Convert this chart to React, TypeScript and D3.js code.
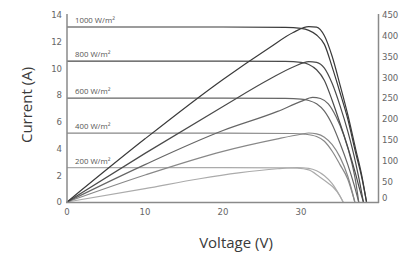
import { useEffect, useRef } from "react";
import * as d3 from "d3";

// irradiance levels, darkest first
const irradiance = [1000, 800, 600, 400, 200];
const seriesColors = ["#3a3a3a", "#4a4a4a", "#666666", "#888888", "#ababab"];

// I-V curves: [voltage, current]
const iv1000: [number, number][] = [[0, 13.1], [20, 13.1], [28, 13.08], [30, 13.0], [31, 12.85], [32, 12.5], [33, 11.8], [34, 10.1], [35, 8.2], [36, 6.2], [37, 3.7], [37.8, 1.8], [38.4, 0]];
const iv800: [number, number][] = [[0, 10.55], [20, 10.55], [28, 10.53], [30, 10.45], [31, 10.3], [32, 9.9], [33, 9.1], [34, 7.6], [35, 5.9], [36, 4.1], [37, 2.1], [37.5, 1.0], [38.0, 0]];
const iv600: [number, number][] = [[0, 7.78], [20, 7.78], [28, 7.76], [30, 7.7], [31, 7.6], [32, 7.35], [33, 6.8], [34, 5.8], [35, 4.4], [36, 2.8], [36.8, 1.3], [37.4, 0]];
const iv400: [number, number][] = [[0, 5.15], [20, 5.15], [29, 5.13], [30.5, 5.08], [32, 4.9], [33, 4.55], [34, 3.8], [35, 2.8], [36, 1.7], [36.9, 0]];
const iv200: [number, number][] = [[0, 2.57], [20, 2.57], [28, 2.56], [29.5, 2.54], [31, 2.4], [32.4, 1.87], [33.5, 1.4], [34.1, 1.12], [35, 0.45], [35.4, 0]];

// P-V curves: [voltage, power]
const pv1000: [number, number][] = [[0, 0], [10, 152], [20, 295], [26, 372], [29, 408], [31, 422], [32, 421], [33, 400], [34, 350], [35, 282], [36, 210], [37, 128], [37.8, 63], [38.4, 0]];
const pv800: [number, number][] = [[0, 0], [10, 117], [20, 230], [26, 296], [29, 325], [31, 338], [32, 336], [33, 322], [34, 285], [35, 232], [36, 170], [37, 95], [37.5, 50], [38.0, 0]];
const pv600: [number, number][] = [[0, 0], [10, 90], [20, 172], [27, 218], [30, 242], [31.5, 252], [32.5, 249], [33.5, 236], [34.5, 205], [35.5, 160], [36.5, 95], [37, 50], [37.4, 0]];
const pv400: [number, number][] = [[0, 0], [10, 65], [20, 122], [27, 152], [30, 163], [31, 166], [32, 164], [33, 156], [34, 138], [35, 108], [36, 62], [36.9, 0]];
const pv200: [number, number][] = [[0, 0], [10, 32], [17, 56], [22, 70], [27, 80], [29.5, 83], [31, 81], [32, 75], [33, 63], [34, 44], [35, 14], [35.4, 0]];

const ivCurves = [iv1000, iv800, iv600, iv400, iv200];
const pvCurves = [pv1000, pv800, pv600, pv400, pv200];

const xTicks = [0, 10, 20, 30];
const currentTicks = [0, 2, 4, 6, 8, 10, 12, 14];
const powerTicks = [0, 50, 100, 150, 200, 250, 300, 350, 400, 450];

const W = 411;
const H = 253;

export default function App() {
  const svgRef = useRef<SVGSVGElement>(null);

  useEffect(() => {
    const svg = d3.select(svgRef.current);
    svg.selectAll("*").remove();

    const x = d3.scaleLinear().domain([0, 40]).range([67, 379]);
    const yI = d3.scaleLinear().domain([0, 14]).range([202, 15]);
    const yP = d3.scaleLinear().domain([0, 450]).range([202, 15]);

    const tickFont = "'DejaVu Sans', sans-serif";
    const titleFont = "'Open Sans', Lato, sans-serif";

    // curves
    const ivLine = d3
      .line<[number, number]>()
      .x((d) => x(d[0]))
      .y((d) => yI(d[1]))
      .curve(d3.curveMonotoneX);
    const pvLine = d3
      .line<[number, number]>()
      .x((d) => x(d[0]))
      .y((d) => yP(d[1]))
      .curve(d3.curveMonotoneX);

    // draw lightest first so dark lines sit on top
    for (let i = irradiance.length - 1; i >= 0; i--) {
      svg
        .append("path")
        .attr("d", ivLine(ivCurves[i]))
        .attr("fill", "none")
        .attr("stroke", seriesColors[i])
        .attr("stroke-width", 1.2);
      svg
        .append("path")
        .attr("d", pvLine(pvCurves[i]))
        .attr("fill", "none")
        .attr("stroke", seriesColors[i])
        .attr("stroke-width", 1.2);
      svg
        .append("text")
        .attr("x", 75)
        .attr("y", yI(ivCurves[i][0][1]) - 4)
        .attr("font-family", titleFont)
        .attr("font-size", 7.8)
        .attr("fill", "#555")
        .text(`${irradiance[i]} W/m²`);
    }

    // axes lines
    const axisColor = "#8a8a8a";
    svg.append("line").attr("x1", 67).attr("x2", 67).attr("y1", 14).attr("y2", 203)
      .attr("stroke", axisColor).attr("stroke-width", 1.5);
    svg.append("line").attr("x1", 66).attr("x2", 379).attr("y1", 202.5).attr("y2", 202.5)
      .attr("stroke", axisColor).attr("stroke-width", 1.5);
    svg.append("line").attr("x1", 378.5).attr("x2", 378.5).attr("y1", 14).attr("y2", 203)
      .attr("stroke", axisColor).attr("stroke-width", 1.5);

    // tick labels
    const tickLabel = (sel: any) =>
      sel.attr("font-family", tickFont).attr("font-stretch", "condensed")
        .attr("font-size", 9.5).attr("fill", "#666").attr("dy", "0.35em");

    svg.append("g").selectAll("text").data(currentTicks).enter().append("text")
      .attr("x", 62).attr("y", (d) => yI(d))
      .attr("text-anchor", "end").call(tickLabel).text((d) => d);

    svg.append("g").selectAll("text").data(powerTicks).enter().append("text")
      .attr("x", 382).attr("y", (d) => yP(d) - (d === 0 ? 4 : 0))
      .attr("text-anchor", "start").call(tickLabel).text((d) => d);

    svg.append("g").selectAll("text").data(xTicks).enter().append("text")
      .attr("x", (d) => x(d)).attr("y", 212)
      .attr("text-anchor", "middle").call(tickLabel).text((d) => d);

    // axis titles
    svg.append("text")
      .attr("transform", `translate(32,105) rotate(-90)`)
      .attr("text-anchor", "middle").attr("font-family", titleFont)
      .attr("font-size", 15).attr("fill", "#3a3a3a").text("Current (A)");
    svg.append("text")
      .attr("x", 236).attr("y", 248)
      .attr("text-anchor", "middle").attr("font-family", titleFont)
      .attr("font-size", 15).attr("fill", "#3a3a3a").text("Voltage (V)");
  }, []);

  return (
    <svg
      ref={svgRef}
      width={W}
      height={H}
      style={{ position: "absolute", left: 0, top: 0, background: "#fff" }}
    ></svg>
  );
}
